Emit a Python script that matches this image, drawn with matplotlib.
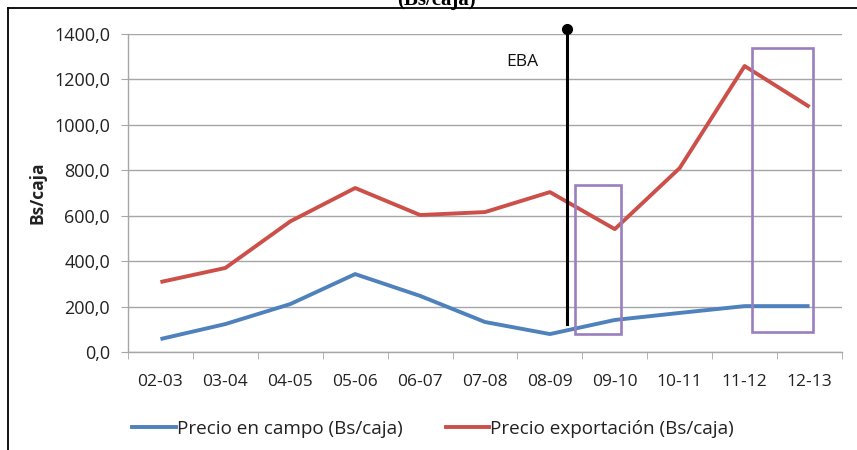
#!/usr/bin/env python3
import matplotlib
matplotlib.use("Agg")
import matplotlib.pyplot as plt
from matplotlib.lines import Line2D
from matplotlib.patches import Rectangle
from matplotlib.ticker import FuncFormatter, FixedLocator

# campaigns and prices (Bs/caja)
campaigns = ["02-03", "03-04", "04-05", "05-06", "06-07", "07-08",
             "08-09", "09-10", "10-11", "11-12", "12-13"]
precio_campo = [57, 123, 211, 343, 247, 132, 79, 141, 172, 202, 202]
precio_export = [308, 370, 575, 722, 603, 616, 704, 541, 810, 1259, 1079]

labels = ["Precio en campo (Bs/caja)", "Precio exportación (Bs/caja)"]
y_ticks = [0, 200, 400, 600, 800, 1000, 1200, 1400]

BLUE = "#4f81bd"
RED = "#cc5049"
PURPLE = "#9a7fbf"
GRID = "#a6a6a6"
TXT = "#222222"

plt.rcParams["font.family"] = ["Open Sans", "DejaVu Sans"]

W, H = 857, 450
fig = plt.figure(figsize=(W / 100, H / 100), dpi=100)
ax = fig.add_axes([128 / W, 1 - 352 / H, (842 - 128) / W, (352 - 34) / H])

x = list(range(len(campaigns)))
ax.plot(x, precio_campo, color=BLUE, lw=2.8, solid_capstyle="butt", zorder=3)
ax.plot(x, precio_export, color=RED, lw=2.8, solid_capstyle="butt", zorder=3)

ax.set_xlim(-0.5, len(campaigns) - 0.5)
ax.set_ylim(0, 1400)
ax.set_yticks(y_ticks)
ax.yaxis.set_major_formatter(FuncFormatter(lambda v, p: f"{v:.1f}".replace(".", ",")))
ax.set_xticks(x)
ax.set_xticklabels(campaigns)
ax.xaxis.set_minor_locator(FixedLocator([i - 0.5 for i in range(len(campaigns) + 1)]))

ax.grid(axis="y", color=GRID, lw=1.0, zorder=0)
for s in ["top", "right"]:
    ax.spines[s].set_visible(False)
for s in ["left", "bottom"]:
    ax.spines[s].set_color(GRID)
    ax.spines[s].set_linewidth(1.0)
ax.tick_params(axis="y", length=5, color=GRID, pad=8, labelsize=13, labelcolor=TXT)
ax.tick_params(axis="x", which="major", length=0, pad=15.5, labelsize=12.5, labelcolor=TXT)
ax.tick_params(axis="x", which="minor", length=5, color=GRID)

# EBA marker line
eba_x, eba_bottom, eba_top = 6.27, 123, 1422
ax.plot([eba_x, eba_x], [eba_bottom, eba_top], color="black", lw=2.2, clip_on=False, zorder=4)
ax.plot([eba_x], [eba_top], marker="o", ms=7, color="black", clip_on=False, zorder=4)
ax.text(5.57, 1277, "EBA", fontsize=12.5, ha="center", va="center", color="#111111")

# highlight boxes
ax.add_patch(Rectangle((6.38, 79), 0.72, 656, fill=False, ec=PURPLE, lw=1.9, zorder=5))
ax.add_patch(Rectangle((9.12, 88), 0.93, 1250, fill=False, ec=PURPLE, lw=1.9, zorder=5))

fig.text(38 / W, 1 - 193 / H, "Bs/caja", rotation=90, fontsize=12.5, fontweight="bold",
         ha="center", va="center", color=TXT)

handles = [Line2D([], [], color=BLUE, lw=2.8), Line2D([], [], color=RED, lw=2.8)]
fig.legend(handles, labels, loc="center", bbox_to_anchor=(433 / W, 1 - 429 / H), ncol=2,
           frameon=False, fontsize=13.6, handlelength=2.3, handletextpad=0.05,
           columnspacing=2.3, labelcolor=TXT)

# cut-off title and frame of the original document
fig.text(436 / W, 1 - 5 / H, "(Bs/caja)", fontsize=15, fontweight="bold",
         family=["Liberation Serif", "DejaVu Serif"], ha="center", va="baseline")
fig.add_artist(Line2D([8 / W, 1], [1 - 8 / H, 1 - 8 / H], color="black", lw=1.3))
fig.add_artist(Line2D([8 / W, 8 / W], [0, 1 - 8 / H], color="black", lw=1.3))

fig.savefig("out.png", dpi=100)
